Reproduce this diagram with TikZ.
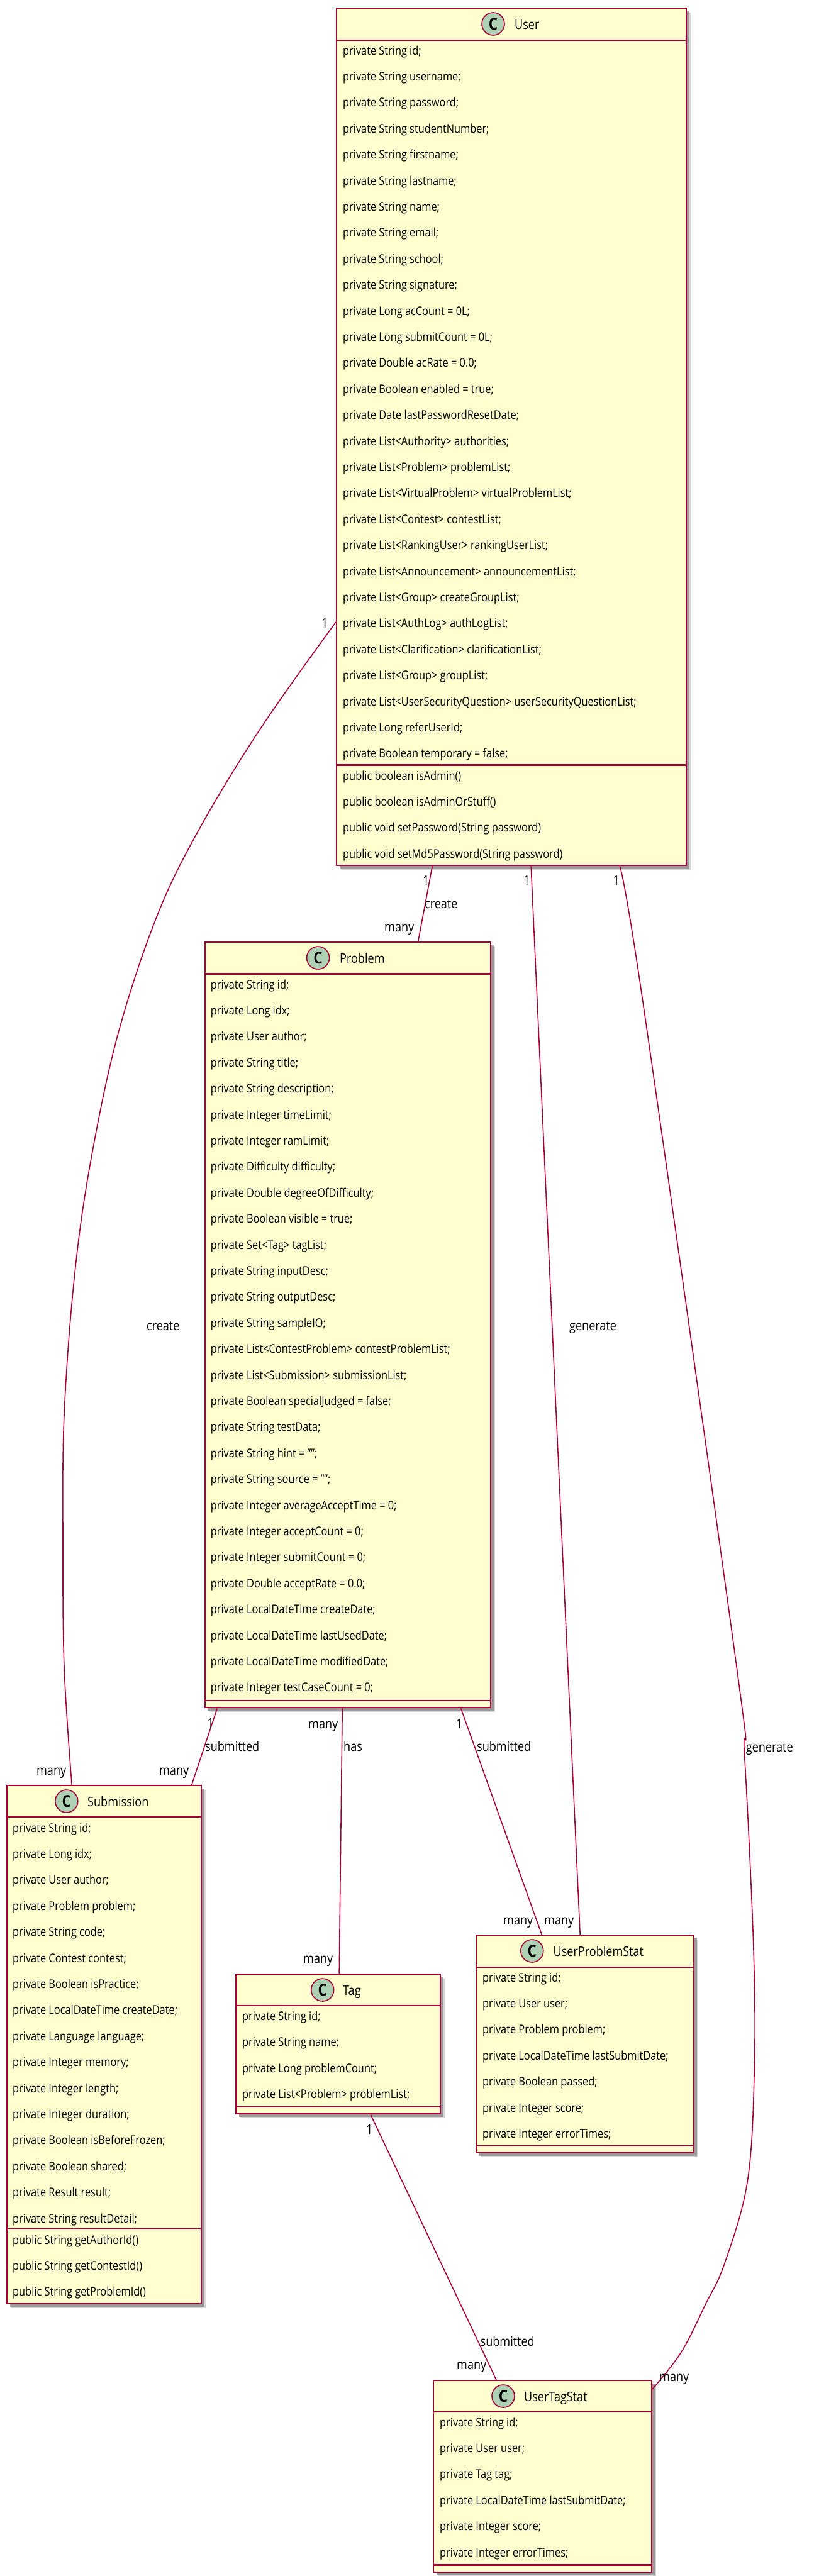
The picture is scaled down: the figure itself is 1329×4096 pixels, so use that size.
\documentclass[tikz,border=0pt]{standalone}
\usepackage{fontspec}
\setmainfont[FakeStretch=0.86]{Open Sans}
\usetikzlibrary{shadows}
\definecolor{umlborder}{HTML}{A80036}
\definecolor{umlfill}{HTML}{FEFECE}
\definecolor{umlicon}{HTML}{ADD1B2}
\tikzset{
 classbox/.style={draw=umlborder,fill=umlfill,line width=2.4pt,anchor=north west,inner sep=0pt,
  drop shadow={shadow xshift=7pt,shadow yshift=-7pt,fill=black!20,opacity=.8},
  drop shadow={shadow xshift=5pt,shadow yshift=-5pt,fill=black!45,opacity=.8}},
 classsep/.style={draw=umlborder,line width=2.2pt},
 classicon/.style={circle,draw=umlborder,fill=umlicon,line width=1.6pt,minimum size=36pt,inner sep=0pt,
  font=\fontsize{26}{26}\selectfont\bfseries},
 classtitle/.style={anchor=base west,inner sep=0pt,font=\fontsize{21}{24}\selectfont},
 member/.style={anchor=base west,inner sep=0pt,font=\fontsize{19}{22}\selectfont},
 assoc/.style={draw=umlborder,line width=1.6pt},
 assoclabel/.style={anchor=base west,inner sep=0pt,font=\fontsize{21}{24}\selectfont},
}
\begin{document}
\begin{tikzpicture}[x=1pt,y=-1pt]
\useasboundingbox (0,0) rectangle (1329,4096);
% User
\node[classbox,minimum width=556pt,minimum height=1363pt] (user) at (534,12) {};
\node[classicon] (userIcon) at (784,38) {C};
\node[classtitle] (userTitle) at (818,46) {User};
\draw[classsep] ([yshift=-52pt]user.north west) -- ([yshift=-52pt]user.north east);
\foreach \m [count=\i] in {private String id;,private String username;,private String password;,
 private String studentNumber;,private String firstname;,private String lastname;,private String name;,
 private String email;,private String school;,private String signature;,private Long acCount = 0L;,
 private Long submitCount = 0L;,private Double acRate = 0.0;,private Boolean enabled = true;,
 private Date lastPasswordResetDate;,private List<Authority> authorities;,private List<Problem> problemList;,
 private List<VirtualProblem> virtualProblemList;,private List<Contest> contestList;,
 private List<RankingUser> rankingUserList;,private List<Announcement> announcementList;,
 private List<Group> createGroupList;,private List<AuthLog> authLogList;,
 private List<Clarification> clarificationList;,private List<Group> groupList;,
 private List<UserSecurityQuestion> userSecurityQuestionList;,private Long referUserId;,
 private Boolean temporary = false;}
 \node[member] (userF\i) at (545,{87+41.4*(\i-1)}) {\m};
\draw[classsep] ([yshift=-1204.5pt]user.north west) -- ([yshift=-1204.5pt]user.north east);
\foreach \m [count=\i] in {public boolean isAdmin(),public boolean isAdminOrStuff(),
 public void setPassword(String password),public void setMd5Password(String password)}
 \node[member] (userM\i) at (545,{1240+41.4*(\i-1)}) {\m};
% Problem
\node[classbox,minimum width=454pt,minimum height=1217pt] (problem) at (324.5,1497) {};
\node[classicon] (problemIcon) at (505.6,1523) {C};
\node[classtitle] (problemTitle) at (540,1531) {Problem};
\draw[classsep] ([yshift=-51.5pt]problem.north west) -- ([yshift=-51.5pt]problem.north east);
\foreach \m [count=\i] in {private String id;,private Long idx;,private User author;,private String title;,
 private String description;,private Integer timeLimit;,private Integer ramLimit;,
 private Difficulty difficulty;,private Double degreeOfDifficulty;,private Boolean visible = true;,
 private Set<Tag> tagList;,private String inputDesc;,private String outputDesc;,private String sampleIO;,
 private List<ContestProblem> contestProblemList;,private List<Submission> submissionList;,
 private Boolean specialJudged = false;,private String testData;,private String hint = "";,
 private String source = "";,private Integer averageAcceptTime = 0;,private Integer acceptCount = 0;,
 private Integer submitCount = 0;,private Double acceptRate = 0.0;,private LocalDateTime createDate;,
 private LocalDateTime lastUsedDate;,private LocalDateTime modifiedDate;,private Integer testCaseCount = 0;}
 \node[member] (problemF\i) at (334.7,{1572+41.4*(\i-1)}) {\m};
\draw[classsep] ([yshift=12.5pt]problem.south west) -- ([yshift=12.5pt]problem.south east);
% Submission
\node[classbox,minimum width=309pt,minimum height=824pt] (submission) at (10,2838) {};
\node[classicon] (submissionIcon) at (105.8,2864) {C};
\node[classtitle] (submissionTitle) at (139,2872) {Submission};
\draw[classsep] ([yshift=-51pt]submission.north west) -- ([yshift=-51pt]submission.north east);
\foreach \m [count=\i] in {private String id;,private Long idx;,private User author;,private Problem problem;,
 private String code;,private Contest contest;,private Boolean isPractice;,private LocalDateTime createDate;,
 private Language language;,private Integer memory;,private Integer length;,private Integer duration;,
 private Boolean isBeforeFrozen;,private Boolean shared;,private Result result;,private String resultDetail;}
 \node[member] (submissionF\i) at (20,{2913+41.4*(\i-1)}) {\m};
\draw[classsep] ([yshift=-706pt]submission.north west) -- ([yshift=-706pt]submission.north east);
\foreach \m [count=\i] in {public String getAuthorId(),public String getContestId(),public String getProblemId()}
 \node[member] (submissionM\i) at (20,{3568+41.4*(\i-1)}) {\m};
% Tag
\node[classbox,minimum width=325pt,minimum height=222pt] (tag) at (374,3138) {};
\node[classicon] (tagIcon) at (512.7,3164) {C};
\node[classtitle] (tagTitle) at (545,3172) {Tag};
\draw[classsep] ([yshift=-51pt]tag.north west) -- ([yshift=-51pt]tag.north east);
\foreach \m [count=\i] in {private String id;,private String name;,private Long problemCount;,private List<Problem> problemList;}
 \node[member] (tagF\i) at (385,{3212.5+41.4*(\i-1)}) {\m};
\draw[classsep] ([yshift=12.5pt]tag.south west) -- ([yshift=12.5pt]tag.south east);
% UserProblemStat
\node[classbox,minimum width=346pt,minimum height=346pt] (ups) at (756,3076) {};
\node[classicon] (upsIcon) at (845.8,3102) {C};
\node[classtitle] (upsTitle) at (879.5,3110) {UserProblemStat};
\draw[classsep] ([yshift=-52pt]ups.north west) -- ([yshift=-52pt]ups.north east);
\foreach \m [count=\i] in {private String id;,private User user;,private Problem problem;,
 private LocalDateTime lastSubmitDate;,private Boolean passed;,private Integer score;,private Integer errorTimes;}
 \node[member] (upsF\i) at (767,{3151+41.4*(\i-1)}) {\m};
\draw[classsep] ([yshift=12.5pt]ups.south west) -- ([yshift=12.5pt]ups.south east);
% UserTagStat
\node[classbox,minimum width=346.5pt,minimum height=304.5pt] (uts) at (688,3784) {};
\node[classicon] (utsIcon) at (800,3810) {C};
\node[classtitle] (utsTitle) at (833,3818) {UserTagStat};
\draw[classsep] ([yshift=-51pt]uts.north west) -- ([yshift=-51pt]uts.north east);
\foreach \m [count=\i] in {private String id;,private User user;,private Tag tag;,
 private LocalDateTime lastSubmitDate;,private Integer score;,private Integer errorTimes;}
 \node[member] (utsF\i) at (699,{3858+41.4*(\i-1)}) {\m};
\draw[classsep] ([yshift=12.5pt]uts.south west) -- ([yshift=12.5pt]uts.south east);
% associations
\draw[assoc] plot[smooth,tension=.6] coordinates {([yshift=-977pt]user.north west) (413,1160) (313,1325) (247,1463) (186,1650) (143,1853) (118,2033) (102,2250) (100,2450) (102,2650) ([xshift=-51.5pt]submission.north)};
\draw[assoc] ([xshift=-126pt]user.south) -- ([xshift=112pt]problem.north);
\draw[assoc] ([xshift=31pt]user.south) -- ([xshift=-8pt]ups.north);
\draw[assoc] plot[smooth,tension=.6] coordinates {([xshift=172pt]user.south) (1023,1600) (1171,2650) (1183.5,2790) (1198,3100) (1199,3300) (1188,3470) (1151.5,3600) (1122,3663) (1083,3740) ([yshift=-15pt]uts.north east)};
\draw[assoc] ([xshift=-207.5pt]problem.south) -- ([xshift=139pt]submission.north);
\draw[assoc] (problem.south |- problem.south) ++(-8.5pt,0pt) -- ([xshift=1.5pt]tag.north);
\draw[assoc] ([xshift=180pt]problem.south) -- ([xshift=-69pt]ups.north);
\draw[assoc] ([xshift=51.5pt]tag.south) -- ([xshift=-73.5pt]uts.north);
% labels
\node[assoclabel] (lblSub1) at (511,998) {1};
\node[assoclabel] (lblSubCreate) at (233,2115) {create};
\node[assoclabel] (lblSubMany) at (58,2822) {many};
\node[assoclabel] (lblPro1) at (672,1407) {1};
\node[assoclabel] (lblProCreate) at (675,1444) {create};
\node[assoclabel] (lblProMany) at (611,1481) {many};
\node[assoclabel] (lblUps1) at (832,1407) {1};
\node[assoclabel] (lblUpsGen) at (905,2115) {generate};
\node[assoclabel] (lblUpsMany) at (865,3060) {many};
\node[assoclabel] (lblUts1) at (974.5,1407) {1};
\node[assoclabel] (lblUtsGen) at (1185.7,2785) {generate};
\node[assoclabel] (lblUtsMany) at (1048,3786) {many};
\node[assoclabel] (lblPs1) at (329.5,2747) {1};
\node[assoclabel] (lblPsSub) at (326,2784) {submitted};
\node[assoclabel] (lblPsMany) at (253,2822) {many};
\node[assoclabel] (lblPtMany) at (490,2748) {many};
\node[assoclabel] (lblPtHas) at (546,2784) {has};
\node[assoclabel] (lblPtManyB) at (482,3121.7) {many};
\node[assoclabel] (lblPu1) at (725,2748) {1};
\node[assoclabel] (lblPuSub) at (758,2784) {submitted};
\node[assoclabel] (lblPuMany) at (800,3060) {many};
\node[assoclabel] (lblTu1) at (582,3393) {1};
\node[assoclabel] (lblTuSub) at (763.5,3730) {submitted};
\node[assoclabel] (lblTuMany) at (726,3767) {many};
\end{tikzpicture}
\end{document}
